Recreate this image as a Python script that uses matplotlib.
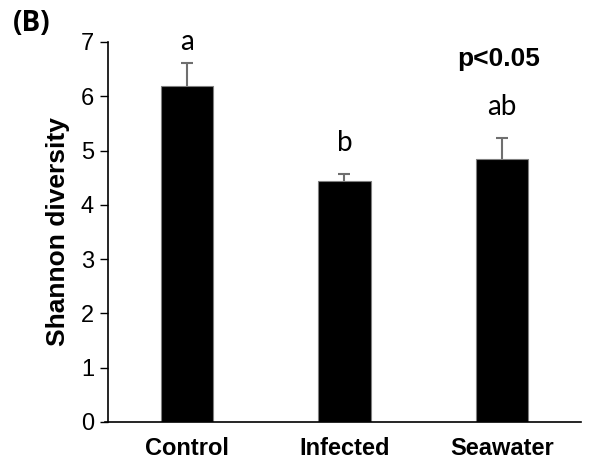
import matplotlib
matplotlib.use('Agg')
import matplotlib.pyplot as plt
import numpy as np

groups = ['Control', 'Infected', 'Seawater']
means = [6.19, 4.44, 4.85]
errors = [0.43, 0.12, 0.38]
letters = ['a', 'b', 'ab']
letter_y = [6.85, 5.0, 5.65]

fig = plt.figure(figsize=(5.92, 4.68), dpi=100)
ax = fig.add_axes([0.1824, 0.0983, 0.7990, 0.8120])

x = np.arange(len(groups))
ax.bar(x, means, width=0.33, color='black', edgecolor='#7f7f7f', linewidth=0.8, zorder=2)
eb = ax.errorbar(x, means, yerr=[np.zeros(len(errors)), errors], fmt='none',
                 ecolor='#6f6f6f', elinewidth=1.5, capsize=4.5, capthick=1.5, zorder=1)
# hide the lower caps (they sit on the bar tops)
eb[1][0].set_visible(False)

for xi, lab, ly in zip(x, letters, letter_y):
    ax.text(xi, ly, lab, ha='center', va='baseline', fontsize=20, family='Lato')

ax.text(1.98, 6.68, 'p<0.05', ha='center', va='center', fontsize=19,
        fontweight='bold', family='Liberation Sans')

ax.set_xlim(-0.5, 2.5)
ax.set_ylim(0, 7)
ax.set_yticks(range(0, 8))
ax.set_xticks(x)
ax.set_xticklabels(groups, fontsize=17, fontweight='bold', family='Liberation Sans')
for t in ax.get_yticklabels():
    t.set_family('Liberation Sans')
    t.set_fontsize(17)
ax.tick_params(axis='x', length=0, pad=11)
ax.tick_params(axis='y', length=6, width=1, pad=4)
ax.spines['top'].set_visible(False)
ax.spines['right'].set_visible(False)
ax.spines['left'].set_linewidth(1.2)
ax.spines['bottom'].set_linewidth(1.2)
ax.spines['bottom'].set_bounds(-0.5 - 0.02, 2.5)

ax.set_ylabel('Shannon diversity', fontsize=19, fontweight='bold', family='Liberation Sans', labelpad=8)

fig.text(0.022, 0.95, '(B)', fontsize=20, fontweight='bold', family='Open Sans', va='center')

fig.savefig('out.png', dpi=100)
